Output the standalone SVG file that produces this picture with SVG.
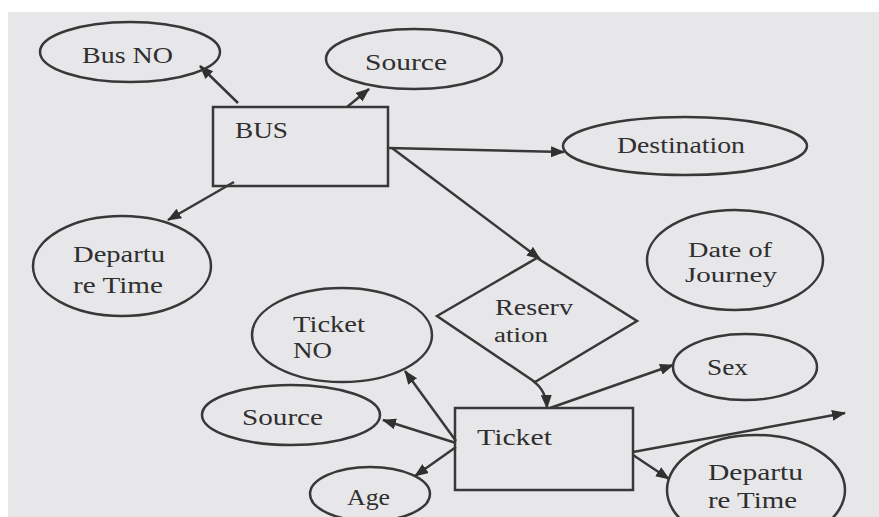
<svg xmlns="http://www.w3.org/2000/svg" width="879" height="517" viewBox="0 0 879 517">
<style>
.shape{fill:none;stroke:#383838;stroke-width:2.5}
.edge{fill:none;stroke:#383838;stroke-width:2.5}
text{font-family:"Liberation Serif","Times New Roman",serif;font-size:24px;fill:#2f2f2f}
.sm{font-size:20px}
</style>
<defs>
<marker id="arr" markerUnits="userSpaceOnUse" markerWidth="16" markerHeight="12" refX="13" refY="5.5" orient="auto">
<path d="M0,0 L14,5.5 L0,11 Z" fill="#303030"/>
</marker>
</defs>
<rect x="0" y="0" width="879" height="517" fill="#ffffff"/>
<rect x="8" y="12" width="871" height="505" fill="#e7e6e9"/>
<g id="connectors">
<line class="edge" x1="238" y1="103" x2="200" y2="66" marker-end="url(#arr)"/>
<line class="edge" x1="347" y1="107" x2="369" y2="89" marker-end="url(#arr)"/>
<line class="edge" x1="234" y1="182" x2="168" y2="220" marker-end="url(#arr)"/>
<line class="edge" x1="388" y1="148" x2="564" y2="152" marker-end="url(#arr)"/>
<line class="edge" x1="392" y1="148" x2="540" y2="259" marker-end="url(#arr)"/>
<path class="edge" d="M533,381 Q546,390 547,408" marker-end="url(#arr)"/>
<line class="edge" x1="550" y1="408" x2="673" y2="365" marker-end="url(#arr)"/>
<line class="edge" x1="633" y1="452" x2="845" y2="413" marker-end="url(#arr)"/>
<line class="edge" x1="633" y1="455" x2="669" y2="479" marker-end="url(#arr)"/>
<line class="edge" x1="456" y1="441" x2="405" y2="371" marker-end="url(#arr)"/>
<line class="edge" x1="456" y1="443" x2="383" y2="420" marker-end="url(#arr)"/>
<line class="edge" x1="456" y1="447" x2="415" y2="476" marker-end="url(#arr)"/>
</g>
<g id="bus">
<rect class="shape" x="213" y="107" width="175" height="79"/>
<text x="235" y="138" textLength="53" lengthAdjust="spacingAndGlyphs">BUS</text>
</g>
<g id="bus-no">
<ellipse class="shape" cx="130" cy="52" rx="90" ry="30"/>
<text x="82" y="63" textLength="91" lengthAdjust="spacingAndGlyphs">Bus NO</text>
</g>
<g id="source-bus">
<ellipse class="shape" cx="414" cy="59" rx="88" ry="30"/>
<text x="365" y="70" textLength="82" lengthAdjust="spacingAndGlyphs">Source</text>
</g>
<g id="destination">
<ellipse class="shape" cx="685" cy="146" rx="122" ry="29"/>
<text x="617" y="153" textLength="128" lengthAdjust="spacingAndGlyphs">Destination</text>
</g>
<g id="departure-bus">
<ellipse class="shape" cx="122" cy="266" rx="89" ry="50"/>
<text x="73" y="262" textLength="92" lengthAdjust="spacingAndGlyphs">Departu</text>
<text x="73" y="293" textLength="90" lengthAdjust="spacingAndGlyphs">re Time</text>
</g>
<g id="date-of-journey">
<ellipse class="shape" cx="735" cy="260" rx="88" ry="50"/>
<text class="sm" x="688" y="257" textLength="84" lengthAdjust="spacingAndGlyphs">Date of</text>
<text class="sm" x="685" y="282" textLength="92" lengthAdjust="spacingAndGlyphs">Journey</text>
</g>
<g id="reservation">
<polygon class="shape" points="437,316 537,258 637,321 535,382"/>
<text x="495" y="315" textLength="78" lengthAdjust="spacingAndGlyphs">Reserv</text>
<text class="sm" x="494" y="342" textLength="54" lengthAdjust="spacingAndGlyphs">ation</text>
</g>
<g id="ticket-no">
<ellipse class="shape" cx="342" cy="335" rx="90" ry="47"/>
<text x="293" y="332" textLength="72" lengthAdjust="spacingAndGlyphs">Ticket</text>
<text x="293" y="358" textLength="39" lengthAdjust="spacingAndGlyphs">NO</text>
</g>
<g id="source-ticket">
<ellipse class="shape" cx="291" cy="415" rx="89" ry="30"/>
<text x="242" y="425" textLength="81" lengthAdjust="spacingAndGlyphs">Source</text>
</g>
<g id="age">
<ellipse class="shape" cx="370" cy="494" rx="60" ry="27"/>
<text x="347" y="505" textLength="43" lengthAdjust="spacingAndGlyphs">Age</text>
</g>
<g id="ticket">
<rect class="shape" x="455" y="408" width="178" height="82"/>
<text x="477" y="445" textLength="75" lengthAdjust="spacingAndGlyphs">Ticket</text>
</g>
<g id="sex">
<ellipse class="shape" cx="745" cy="367" rx="72" ry="33"/>
<text x="707" y="375" textLength="41" lengthAdjust="spacingAndGlyphs">Sex</text>
</g>
<g id="departure-ticket">
<ellipse class="shape" cx="756" cy="490" rx="89" ry="55"/>
<text x="708" y="480" textLength="95" lengthAdjust="spacingAndGlyphs">Departu</text>
<text x="708" y="508" textLength="89" lengthAdjust="spacingAndGlyphs">re Time</text>
</g>
</svg>
